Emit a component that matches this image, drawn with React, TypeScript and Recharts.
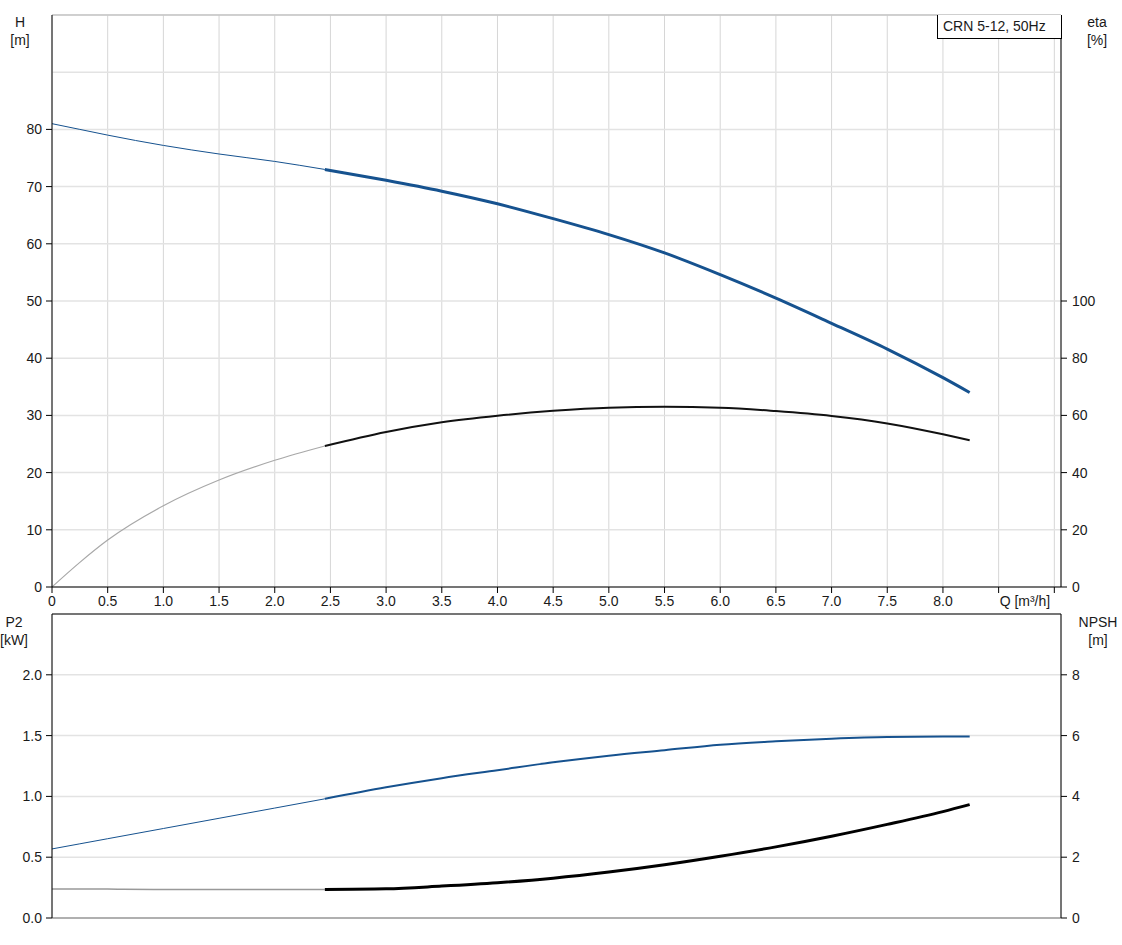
import React from "react";
import { LineChart, Line, XAxis, YAxis, CartesianGrid, ReferenceLine } from "recharts";

// flow Q [m³/h]
const qThin = [0, 0.25, 0.5, 1.0, 1.5, 2.0, 2.45];
const qThick = [2.45, 3.0, 3.5, 4.0, 4.5, 5.0, 5.5, 6.0, 6.5, 7.0, 7.5, 8.0, 8.24];

// head H [m]
const hThin = [81.0, 80.0, 79.0, 77.2, 75.7, 74.4, 73.0];
const hThick = [73.0, 71.1, 69.2, 67.0, 64.4, 61.6, 58.4, 54.6, 50.5, 46.1, 41.6, 36.6, 34.0];

// efficiency eta [%]
const etaThin = [0, 8.6, 16.4, 28.4, 37.4, 44.3, 49.3];
const etaThick = [49.3, 54.2, 57.6, 59.9, 61.6, 62.7, 63.0, 62.7, 61.5, 59.8, 57.2, 53.4, 51.3];

// power P2 [kW]
const p2Thin = [0.568, 0.61, 0.652, 0.736, 0.82, 0.904, 0.98];
const p2Thick = [0.98, 1.075, 1.15, 1.215, 1.28, 1.335, 1.38, 1.425, 1.453, 1.475, 1.489, 1.492, 1.492];

// NPSH [m]
const npshThin = [0.955, 0.952, 0.95, 0.94, 0.94, 0.94, 0.94];
const npshThick = [0.94, 0.96, 1.05, 1.16, 1.31, 1.51, 1.75, 2.03, 2.34, 2.69, 3.08, 3.5, 3.73];

const qTicks = [0, 0.5, 1, 1.5, 2, 2.5, 3, 3.5, 4, 4.5, 5, 5.5, 6, 6.5, 7, 7.5, 8, 8.5, 9];
const hTicks = [0, 10, 20, 30, 40, 50, 60, 70, 80, 90, 100];
const etaTicks = [0, 20, 40, 60, 80, 100];
const p2Ticks = [0, 0.5, 1, 1.5, 2, 2.5];
const npshTicks = [0, 2, 4, 6, 8];

const zip = (q: number[], v: number[]) => q.map((x, i) => ({ q: x, v: v[i] }));

const FONT = "'Liberation Sans', Arial, sans-serif";
const TXT = "#1a1a1a";
const BLUE = "#16528f";
const Q_MAX = 9.06;

function LeftTick({ x, y, payload, max, fmt }: any) {
  if (payload.value > max) return null;
  return (
    <g>
      <line x1={x - 6} x2={x} y1={y} y2={y} stroke="#000" />
      <text x={x - 10} y={y} dy={5} textAnchor="end" fontSize={14} fill={TXT} fontFamily={FONT}>
        {fmt(payload.value)}
      </text>
    </g>
  );
}

function RightTick({ x, y, payload }: any) {
  return (
    <g>
      <line x1={x} x2={x + 6} y1={y} y2={y} stroke="#000" />
      <text x={x + 11} y={y} dy={5} textAnchor="start" fontSize={14} fill={TXT} fontFamily={FONT}>
        {payload.value}
      </text>
    </g>
  );
}

function QTick({ x, y, payload }: any) {
  const v = payload.value;
  let label = v === 0 ? "0" : v.toFixed(1);
  let anchor = "middle";
  let tx = x;
  if (v === 8.5) { label = "Q [m³/h]"; anchor = "start"; tx = x + 1; }
  if (v === 9) label = "";
  return (
    <g>
      <line x1={x} x2={x} y1={y} y2={y + 6} stroke="#000" />
      <text x={tx} y={y + 19} textAnchor={anchor} fontSize={14} fill={TXT} fontFamily={FONT}>
        {label}
      </text>
    </g>
  );
}

const abs = (left: number, top: number, extra: React.CSSProperties = {}): React.CSSProperties => ({
  position: "absolute", left, top, fontFamily: FONT, fontSize: 14, color: TXT, lineHeight: "18px", ...extra,
});

export default function App() {
  return (
    <div style={{ position: "absolute", left: 0, top: 0, width: 1122, height: 945, background: "#fff", overflow: "hidden" }}>
      {/* Top chart: H and eta */}
      <div style={{ position: "absolute", left: 0, top: 0 }}>
        <LineChart width={1122} height={612} margin={{ top: 15, right: 0, left: 0, bottom: 0 }}>
          <CartesianGrid yAxisId="h" horizontal={false} stroke="#d6d6d6" />
          <CartesianGrid yAxisId="h" vertical={false} stroke="#e3e3e3" strokeWidth={1.5} />
          <XAxis type="number" dataKey="q" domain={[0, Q_MAX]} ticks={qTicks} allowDataOverflow
            height={25} tickSize={0} tickMargin={0} tickLine={false} tick={<QTick />} axisLine={{ stroke: "#000" }} />
          <YAxis yAxisId="h" domain={[0, 100]} ticks={hTicks} width={52} tickSize={0} tickMargin={0} tickLine={false}
            tick={<LeftTick max={80} fmt={(v: number) => String(v)} />} axisLine={{ stroke: "#000" }} />
          <YAxis yAxisId="eta" orientation="right" domain={[0, 200]} ticks={etaTicks} width={61} tickSize={0} tickMargin={0}
            tickLine={false} tick={<RightTick />} axisLine={{ stroke: "#000" }} />
          <ReferenceLine yAxisId="h" y={100} stroke="#b5b5b5" />
          <Line yAxisId="h" data={zip(qThin, hThin)} dataKey="v" type="monotone" stroke={BLUE} strokeWidth={1} dot={false} isAnimationActive={false} />
          <Line yAxisId="h" data={zip(qThick, hThick)} dataKey="v" type="monotone" stroke={BLUE} strokeWidth={3} dot={false} isAnimationActive={false} />
          <Line yAxisId="eta" data={zip(qThin, etaThin)} dataKey="v" type="monotone" stroke="#a8a8a8" strokeWidth={1.2} dot={false} isAnimationActive={false} />
          <Line yAxisId="eta" data={zip(qThick, etaThick)} dataKey="v" type="monotone" stroke="#111" strokeWidth={2} dot={false} isAnimationActive={false} />
        </LineChart>
      </div>

      {/* Bottom chart: P2 and NPSH */}
      <div style={{ position: "absolute", left: 0, top: 600 }}>
        <LineChart width={1122} height={345} margin={{ top: 14, right: 0, left: 0, bottom: 0 }}>
          <CartesianGrid yAxisId="p2" horizontal={false} stroke="#d6d6d6" />
          <CartesianGrid yAxisId="p2" vertical={false} stroke="#e3e3e3" strokeWidth={1.5} />
          <XAxis type="number" dataKey="q" domain={[0, Q_MAX]} ticks={qTicks} allowDataOverflow
            height={27} tick={false} tickLine={false} axisLine={{ stroke: "#b0b0b0", strokeWidth: 2 }} />
          <YAxis yAxisId="p2" domain={[0, 2.5]} ticks={p2Ticks} width={52} tickSize={0} tickMargin={0} tickLine={false}
            tick={<LeftTick max={2} fmt={(v: number) => v.toFixed(1)} />} axisLine={{ stroke: "#000" }} />
          <YAxis yAxisId="npsh" orientation="right" domain={[0, 10]} ticks={npshTicks} width={61} tickSize={0} tickMargin={0}
            tickLine={false} tick={<RightTick />} axisLine={{ stroke: "#000" }} />
          <ReferenceLine yAxisId="p2" y={2.5} stroke="#000" />
          <Line yAxisId="p2" data={zip(qThin, p2Thin)} dataKey="v" type="monotone" stroke={BLUE} strokeWidth={1} dot={false} isAnimationActive={false} />
          <Line yAxisId="p2" data={zip(qThick, p2Thick)} dataKey="v" type="monotone" stroke={BLUE} strokeWidth={2} dot={false} isAnimationActive={false} />
          <Line yAxisId="npsh" data={zip(qThin, npshThin)} dataKey="v" type="monotone" stroke="#999" strokeWidth={1.5} dot={false} isAnimationActive={false} />
          <Line yAxisId="npsh" data={zip(qThick, npshThick)} dataKey="v" type="monotone" stroke="#000" strokeWidth={3} dot={false} isAnimationActive={false} />
        </LineChart>
      </div>

      {/* axis titles */}
      <div style={abs(0, 13, { width: 40, textAlign: "center" })}>H<br />[m]</div>
      <div style={abs(1077, 13, { width: 40, textAlign: "center" })}>eta<br />[%]</div>
      <div style={abs(-6, 613, { width: 40, textAlign: "center" })}>P2<br />[kW]</div>
      <div style={abs(1074, 613, { width: 48, textAlign: "center" })}>NPSH<br />[m]</div>

      {/* title box */}
      <div style={abs(937, 15, { width: 125, height: 24, border: "1px solid #000", borderTop: "none", background: "#fff", boxSizing: "border-box", paddingLeft: 5, lineHeight: "22px" })}>
        CRN 5-12, 50Hz
      </div>
    </div>
  );
}
